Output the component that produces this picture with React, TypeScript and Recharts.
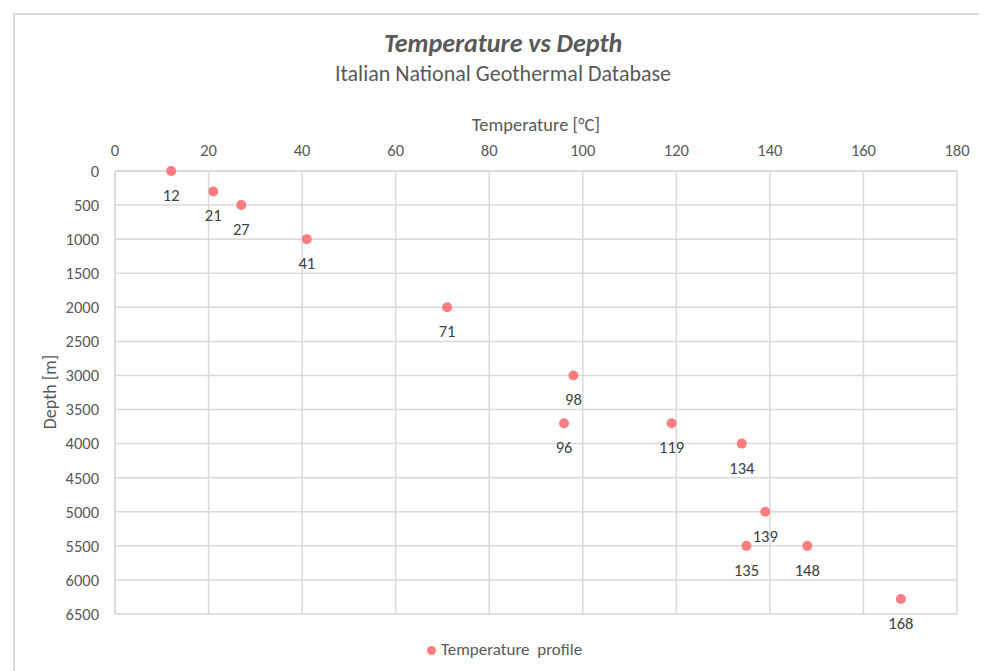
import React from "react";
import {
  ScatterChart,
  Scatter,
  XAxis,
  YAxis,
  CartesianGrid,
} from "recharts";

const temperatures = [12, 21, 27, 41, 71, 98, 96, 119, 134, 139, 135, 148, 168];
const depths = [0, 300, 500, 1000, 2000, 3000, 3700, 3700, 4000, 5000, 5500, 5500, 6280];
const xTicks = [0, 20, 40, 60, 80, 100, 120, 140, 160, 180];
const yTicks = [0, 500, 1000, 1500, 2000, 2500, 3000, 3500, 4000, 4500, 5000, 5500, 6000, 6500];

const data = temperatures.map((t, i) => ({ x: t, y: depths[i] }));

const FONT = "Carlito, Calibri, Lato, 'Open Sans', sans-serif";
const TEXT = "#595959";
const DOT = "#ff7c80";
const GRID = "#d9d9d9";

const Dot = (props: any) => {
  const { cx, cy, payload } = props;
  return (
    <g>
      <circle cx={cx} cy={cy} r={5} fill={DOT} />
      <text
        x={cx}
        y={cy + 30}
        textAnchor="middle"
        fontSize={16.5}
        fill="#404040"
        fontFamily={FONT}
      >
        {payload.x}
      </text>
    </g>
  );
};

export default function App() {
  return (
    <div style={{ position: "relative", width: 979, height: 663, overflow: "hidden", fontFamily: FONT }}>
      <div
        style={{
          position: "absolute",
          left: 5,
          top: 5,
          width: 1000,
          height: 700,
          border: "2px solid #d9d9d9",
          boxSizing: "border-box",
        }}
      />
      <div
        style={{
          position: "absolute",
          left: 0,
          top: 20,
          width: 990,
          textAlign: "center",
          fontSize: 26,
          lineHeight: "31px",
          fontWeight: 700,
          fontStyle: "italic",
          color: TEXT,
        }}
      >
        Temperature vs Depth
      </div>
      <div
        style={{
          position: "absolute",
          left: 0,
          top: 52,
          width: 990,
          textAlign: "center",
          fontSize: 22,
          lineHeight: "27px",
          color: TEXT,
        }}
      >
        Italian National Geothermal Database
      </div>
      <div
        style={{
          position: "absolute",
          left: 107,
          top: 106,
          width: 842,
          textAlign: "center",
          fontSize: 18.5,
          lineHeight: "22px",
          color: TEXT,
        }}
      >
        Temperature [°C]
      </div>
      <div
        style={{
          position: "absolute",
          left: 42 - 60,
          top: 384 - 11,
          width: 120,
          textAlign: "center",
          fontSize: 18,
          lineHeight: "22px",
          color: TEXT,
          transform: "rotate(-90deg)",
        }}
      >
        Depth [m]
      </div>
      <ScatterChart
        width={979}
        height={663}
        margin={{ top: 0, right: 30, bottom: 57, left: 0 }}
        style={{ position: "absolute", left: 0, top: 0 }}
      >
        <CartesianGrid stroke={GRID} strokeWidth={1.5} />
        <XAxis
          type="number"
          dataKey="x"
          orientation="top"
          domain={[0, 180]}
          ticks={xTicks}
          height={163}
          tickLine={false}
          tickSize={0}
          tickMargin={15}
          axisLine={{ stroke: GRID, strokeWidth: 1.5 }}
          tick={{ fill: TEXT, fontSize: 16.5, fontFamily: FONT }}
          interval={0}
        />
        <YAxis
          type="number"
          dataKey="y"
          reversed
          domain={[0, 6500]}
          ticks={yTicks}
          width={107}
          tickLine={false}
          tickSize={0}
          tickMargin={16}
          axisLine={{ stroke: GRID, strokeWidth: 1.5 }}
          tick={{ fill: TEXT, fontSize: 16.5, fontFamily: FONT }}
          interval={0}
        />
        <Scatter data={data} fill={DOT} shape={<Dot />} isAnimationActive={false} />
      </ScatterChart>
      <div
        style={{
          position: "absolute",
          left: 419,
          top: 632,
          height: 20,
          display: "flex",
          alignItems: "center",
          fontSize: 17,
          lineHeight: "20px",
          color: TEXT,
        }}
      >
        <span
          style={{
            display: "inline-block",
            width: 9,
            height: 9,
            borderRadius: "50%",
            background: DOT,
            marginRight: 5,
          }}
        />
        Temperature&nbsp; profile
      </div>
    </div>
  );
}
